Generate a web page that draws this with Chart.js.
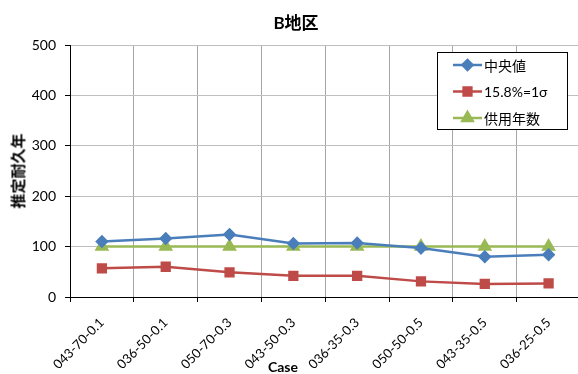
<!DOCTYPE html>
<html>
<head>
<meta charset="utf-8">
<script src="https://cdn.jsdelivr.net/npm/chart.js@4.4.1/dist/chart.umd.min.js"></script>
<style>
  html, body { margin: 0; padding: 0; background: #fff; overflow: hidden; }
  #wrap { position: relative; width: 578px; height: 374px; overflow: hidden; }
  #chart { position: absolute; left: 0; top: 0; }
  .lbl { position: absolute; font-family: Lato, "Noto Sans CJK JP", sans-serif; font-weight: bold; color: #000; white-space: nowrap; }
  #title { left: 296px; top: 21px; font-size: 17px; transform: translate(-50%, -50%); }
  #ytitle { left: 17px; top: 171px; font-size: 15px; transform: translate(-50%, -50%) rotate(-90deg); }
  #xtitle { left: 283px; top: 366px; font-size: 14px; transform: translate(-50%, -50%); }
</style>
</head>
<body>
<div id="wrap">
  <canvas id="chart" width="589" height="374"></canvas>
  <div class="lbl" id="title">B地区</div>
  <div class="lbl" id="ytitle">推定耐久年</div>
  <div class="lbl" id="xtitle">Case</div>
</div>
<script>
const cases = ['043-70-0.1', '036-50-0.1', '050-70-0.3', '043-50-0.3', '036-35-0.3', '050-50-0.5', '043-35-0.5', '036-25-0.5'];
const median = [110, 116, 124, 106, 107, 97, 80, 84];
const sigma = [57, 60, 49, 42, 42, 31, 26, 27];
const serviceLife = [100, 100, 100, 100, 100, 100, 100, 100];

const fontFamily = 'Lato, "Noto Sans CJK JP", sans-serif';

// legend box drawn inside the plot, upper right
const boxLegend = {
    id: 'boxLegend',
    afterDraw(chart) {
        const ctx = chart.ctx;
        const x = 437, y = 52, w = 130, h = 77;
        ctx.save();
        ctx.fillStyle = '#fff';
        ctx.fillRect(x, y, w, h);
        ctx.strokeStyle = '#000';
        ctx.lineWidth = 1;
        ctx.strokeRect(x + 0.5, y + 0.5, w, h);
        chart.data.datasets.forEach((ds, i) => {
            const cy = y + 13 + i * 26.5;
            ctx.strokeStyle = ds.borderColor;
            ctx.lineWidth = 2.5;
            ctx.beginPath();
            ctx.moveTo(453, cy);
            ctx.lineTo(482, cy);
            ctx.stroke();
            Chart.helpers.drawPoint(ctx, {
                pointStyle: ds.pointStyle,
                radius: ds.pointRadius,
                rotation: 0,
                borderWidth: 1
            }, 467.5, cy);
            ctx.fillStyle = ds.pointBackgroundColor;
            ctx.fill();
            ctx.fillStyle = '#000';
            ctx.font = '14px ' + fontFamily;
            ctx.textBaseline = 'middle';
            ctx.fillText(ds.label, 484, cy + 1);
        });
        ctx.restore();
    }
};

new Chart(document.getElementById('chart'), {
    type: 'line',
    data: {
        labels: cases,
        datasets: [{
            label: '中央値',
            data: median,
            borderColor: '#4a7ebb',
            backgroundColor: '#4a7ebb',
            pointBackgroundColor: '#4a7ebb',
            pointBorderColor: '#4a7ebb',
            pointStyle: 'rectRot',
            pointRadius: 5,
            borderWidth: 2.5
        }, {
            label: '15.8%=1σ',
            data: sigma,
            borderColor: '#be4b48',
            backgroundColor: '#be4b48',
            pointBackgroundColor: '#be4b48',
            pointBorderColor: '#be4b48',
            pointStyle: 'rect',
            pointRadius: 5.5,
            borderWidth: 2.5
        }, {
            label: '供用年数',
            data: serviceLife,
            borderColor: '#98b954',
            backgroundColor: '#98b954',
            pointBackgroundColor: '#98b954',
            pointBorderColor: '#98b954',
            pointStyle: 'triangle',
            pointRadius: 6,
            borderWidth: 2.5
        }]
    },
    options: {
        responsive: false,
        animation: false,
        layout: { padding: { top: 45, left: 0, right: 0, bottom: 0 } },
        plugins: {
            legend: { display: false },
            title: { display: false },
            tooltip: { enabled: false }
        },
        scales: {
            x: {
                offset: true,
                afterFit: s => { s.height = 77; },
                grid: { offset: true, color: '#a6a6a6', tickColor: '#000', tickLength: 5 },
                border: { color: '#000', width: 1 },
                ticks: {
                    minRotation: 45,
                    maxRotation: 45,
                    color: '#000',
                    padding: 13,
                    font: { family: fontFamily, size: 13 }
                }
            },
            y: {
                min: 0,
                max: 500,
                afterFit: s => { s.width = 70; },
                grid: { color: '#bfbfbf', tickColor: '#000', tickLength: 5 },
                border: { color: '#000', width: 1 },
                ticks: {
                    stepSize: 100,
                    color: '#000',
                    padding: 9,
                    font: { family: fontFamily, size: 14 }
                }
            }
        }
    },
    plugins: [boxLegend]
});
</script>
</body>
</html>
